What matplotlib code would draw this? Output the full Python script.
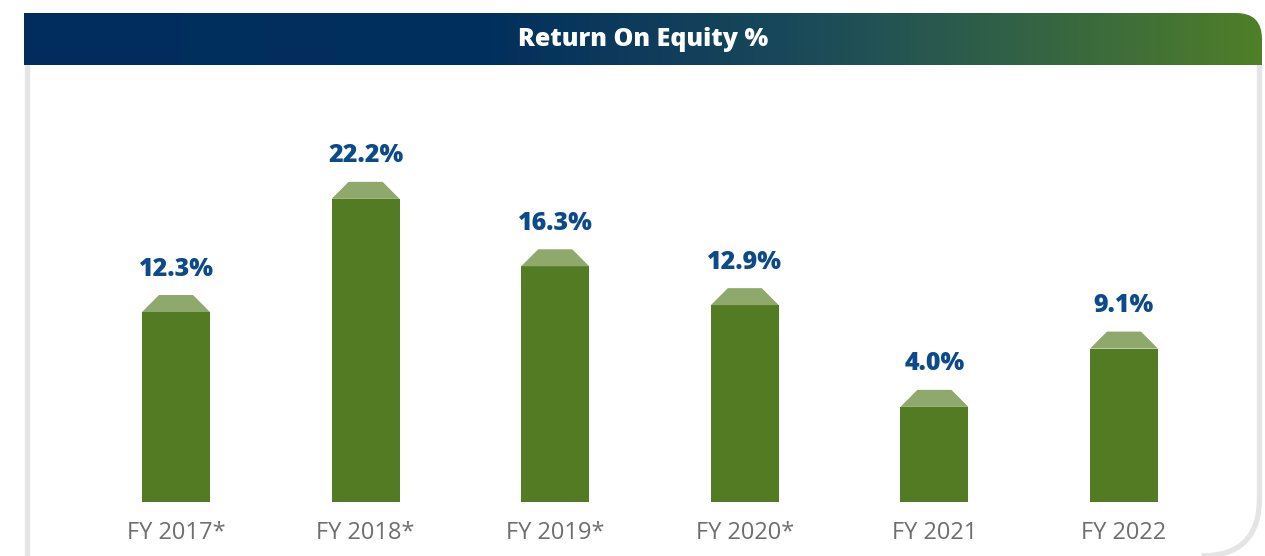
import numpy as np
import matplotlib
matplotlib.use("Agg")
import matplotlib.pyplot as plt
from matplotlib.path import Path
from matplotlib.patches import PathPatch, Polygon
from matplotlib.colors import LinearSegmentedColormap

# data
years = ["FY 2017*", "FY 2018*", "FY 2019*", "FY 2020*", "FY 2021", "FY 2022"]
roe = [12.3, 22.2, 16.3, 12.9, 4.0, 9.1]
labels = ["12.3%", "22.2%", "16.3%", "12.9%", "4.0%", "9.1%"]

W, H = 1265, 556
fig = plt.figure(figsize=(W / 100, H / 100), dpi=100)
fig.patch.set_facecolor("white")

# background layer in pixel coords (header band + card border)
bg = fig.add_axes([0, 0, 1, 1], zorder=0)
bg.set_xlim(0, W)
bg.set_ylim(H, 0)
bg.axis("off")

# header with a rounded top-right corner
x0, x1, y0, y1, r = 24, 1262, 13, 65, 26
hdr = Path([(x0, y1), (x0, y0), (x1 - r, y0), (x1, y0), (x1, y0 + r), (x1, y1), (x0, y1)],
           [Path.MOVETO, Path.LINETO, Path.LINETO, Path.CURVE3, Path.CURVE3, Path.LINETO, Path.CLOSEPOLY])
clip = PathPatch(hdr, facecolor="none", edgecolor="none", transform=bg.transData)
bg.add_patch(clip)
cmap = LinearSegmentedColormap.from_list("hdr", [
    (0.0, "#002d5e"), (0.38, "#02305d"), (0.61, "#17485a"),
    (0.71, "#255552"), (0.86, "#3a6a3c"), (1.0, "#4f7f28")])
grad = np.linspace(0, 1, 512).reshape(1, -1)
im = bg.imshow(grad, cmap=cmap, extent=(x0, x1, y1, y0), aspect="auto", zorder=1)
im.set_clip_path(clip)
bg.text((x0 + x1) / 2, 40, "Return On Equity %", color="white", fontsize=18,
        fontweight="heavy", family=["Open Sans", "DejaVu Sans"], ha="center", va="center", zorder=3)

# card border: left side straight, bottom-right rounded
lx, rx, by, R = 27.5, 1259.5, 556, 58
border = Path([(lx, y1), (lx, H + 5), (rx - R, by), (rx, by), (rx, by - R), (rx, y1)],
              [Path.MOVETO, Path.LINETO, Path.MOVETO, Path.CURVE3, Path.CURVE3, Path.LINETO])
bg.add_patch(PathPatch(border, facecolor="none", edgecolor="#e4e4e4", lw=3.8, zorder=2))

# bar axes: bottom edge at the bar baseline
base = -5.81
top = 38.11
ax = fig.add_axes([0, (H - 502) / H, 1, 502 / H], zorder=1)
ax.patch.set_alpha(0)
step = 189.6
ax.set_xlim(-176 / step, (W - 176) / step)
ax.set_ylim(base, top)

bw = 68 / step
cw = 34 / step
cap_h = 17 / 11.43
xs = np.arange(len(roe))
body = np.array(roe) - cap_h
ax.bar(xs, body - base, bottom=base, width=bw, color="#537b24", zorder=2)
for x, v, lab in zip(xs, roe, labels):
    ax.add_patch(Polygon([(x - bw / 2, v - cap_h), (x + bw / 2, v - cap_h),
                          (x + cw / 2, v), (x - cw / 2, v)],
                         closed=True, facecolor="#8fa86b", edgecolor="none", zorder=2))
    ax.annotate(lab, (x, v), xytext=(0, 14), textcoords="offset points",
                ha="center", va="baseline", color="#0d4a8a", fontsize=18,
                fontweight="heavy", family=["Open Sans", "DejaVu Sans"])

ax.set_xticks(xs)
ax.set_xticklabels(years, color="#6e6e6e", fontsize=17, family=["Open Sans", "DejaVu Sans"])
ax.tick_params(axis="x", length=0, pad=14)
ax.set_yticks([])
for s in ax.spines.values():
    s.set_visible(False)

fig.savefig("out.png", dpi=100)
